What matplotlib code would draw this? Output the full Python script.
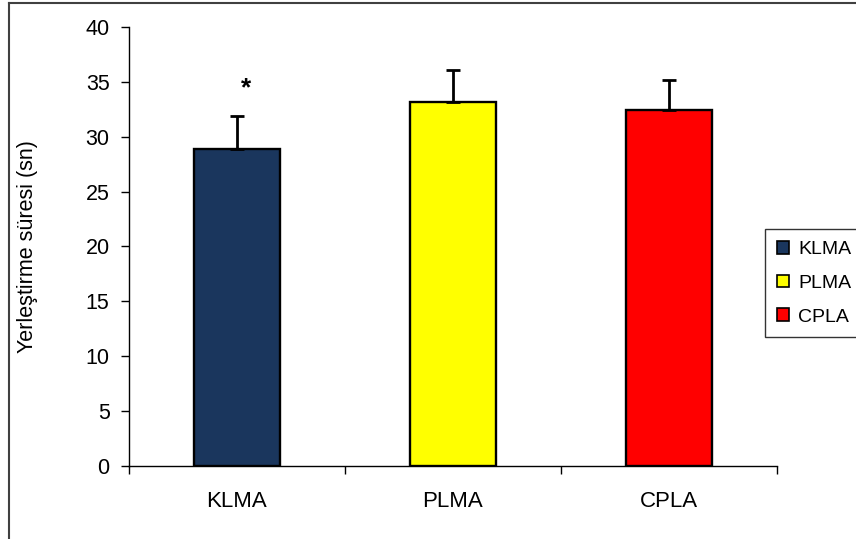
#!/usr/bin/env python3
import matplotlib
matplotlib.use("Agg")
import matplotlib.pyplot as plt
from matplotlib.lines import Line2D
from matplotlib.patches import Patch

plt.rcParams['font.family'] = ['Liberation Sans', 'DejaVu Sans']

groups = ["KLMA", "PLMA", "CPLA"]
means = [28.9, 33.2, 32.4]
errors = [3.0, 2.9, 2.8]
colors = ["#1a365d", "#ffff00", "#ff0000"]
yticks = [0, 5, 10, 15, 20, 25, 30, 35, 40]
ylabel = "Yerleştirme süresi (sn)"
star_pos = (0.04, 34.4)

W, H = 856, 539
fig = plt.figure(figsize=(W / 100, H / 100), dpi=100)
ax = fig.add_axes([129 / W, 1 - 466 / H, (777 - 129) / W, (466 - 27) / H])

x = list(range(len(groups)))
ax.bar(x, means, width=0.4, color=colors, edgecolor="black", linewidth=1.7, zorder=2)
ax.errorbar(x, means, yerr=[[0] * len(errors), errors], fmt="none",
            ecolor="black", elinewidth=2, capsize=5, capthick=2, zorder=3)

ax.set_xlim(-0.5, 2.5)
ax.set_ylim(0, 40)
ax.set_yticks(yticks)
ax.set_xticks(x)
ax.set_xticklabels(groups)
ax.set_xticks([-0.5, 0.5, 1.5, 2.5], minor=True)
ax.tick_params(axis="x", which="major", length=0, pad=18, labelsize=16)
ax.tick_params(axis="x", which="minor", length=6, width=1, direction="out")
ax.tick_params(axis="y", length=6, width=1, direction="out", pad=8, labelsize=15.5)
for s in ["top", "right"]:
    ax.spines[s].set_visible(False)
for s in ["left", "bottom"]:
    ax.spines[s].set_linewidth(1)

ax.text(star_pos[0], star_pos[1], "*", ha="center", va="center", fontsize=19, fontweight="bold")
fig.text(28 / W, 1 - 247 / H, ylabel, rotation=90, ha="center", va="center", fontsize=15.5)

handles = [Patch(facecolor=c, edgecolor="black", linewidth=1.2) for c in colors]
leg = fig.legend(handles, groups, loc="upper left", bbox_to_anchor=(765 / W, 1 - 229 / H),
                 fontsize=14, frameon=True, fancybox=False, handlelength=0.65, handleheight=0.65,
                 handletextpad=0.45, labelspacing=0.85, borderpad=0.6, borderaxespad=0)
leg.get_frame().set_edgecolor("black")
leg.get_frame().set_linewidth(1)

# outer chart border (clipped at right and bottom)
fig.add_artist(Line2D([9 / W, 9 / W], [0, 1 - 3 / H], color="#404040", linewidth=1.5))
fig.add_artist(Line2D([9 / W, 1], [1 - 3 / H, 1 - 3 / H], color="#404040", linewidth=1.5))

fig.savefig("out.png", dpi=100)
